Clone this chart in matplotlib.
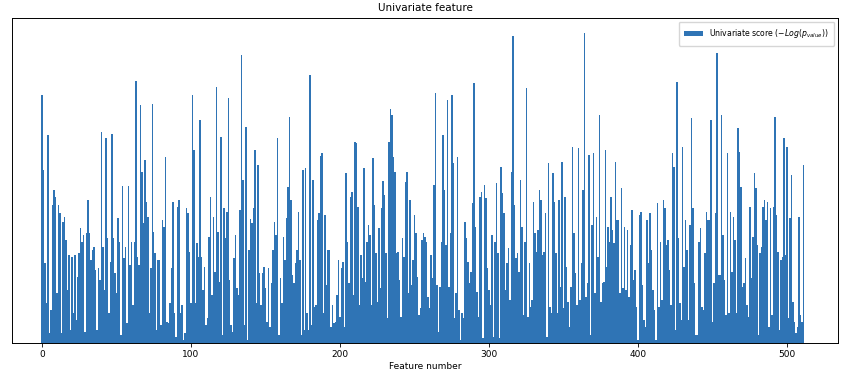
import numpy as np
import matplotlib
matplotlib.use("Agg")
import matplotlib.pyplot as plt

# univariate scores, in blocks of feature numbers
scores_000_063 = [248, 173, 80, 40, 208, 10, 33, 138, 153, 146, 50, 138, 130, 10, 121, 126, 103, 53, 88, 13,
                  86, 30, 88, 23, 66, 90, 115, 101, 108, 11, 110, 143, 110, 83, 93, 96, 73, 13, 75, 63,
                  211, 96, 53, 205, 105, 30, 81, 209, 105, 70, 50, 125, 101, 8, 157, 85, 96, 20, 157, 78,
                  101, 38, 101, 262]
scores_064_127 = [86, 78, 238, 171, 120, 183, 141, 126, 30, 75, 239, 111, 90, 13, 83, 83, 18, 123, 116, 186,
                  21, 20, 40, 75, 141, 30, 6, 136, 143, 30, 38, 3, 10, 135, 130, 91, 40, 248, 193, 40,
                  100, 86, 223, 86, 53, 76, 18, 25, 106, 146, 48, 126, 71, 256, 111, 61, 206, 8, 135, 105,
                  131, 245, 63, 18]
scores_128_190 = [11, 85, 108, 55, 48, 133, 288, 163, 18, 216, 3, 93, 124, 120, 135, 193, 40, 178, 70, 38,
                  70, 76, 55, 21, 75, 16, 60, 93, 121, 108, 205, 8, 65, 40, 106, 83, 125, 156, 226, 143,
                  68, 60, 80, 93, 131, 83, 8, 173, 13, 175, 30, 13, 268, 18, 163, 36, 38, 123, 130, 187,
                  190, 30, 128]
scores_191_255 = [58, 93, 93, 16, 38, 20, 21, 48, 83, 26, 75, 81, 16, 170, 101, 60, 146, 151, 48, 201,
                  200, 136, 38, 88, 65, 175, 61, 101, 118, 108, 38, 185, 138, 90, 41, 115, 55, 135, 162, 148,
                  90, 25, 201, 234, 228, 186, 171, 90, 91, 63, 26, 105, 86, 161, 171, 50, 143, 58, 83, 128,
                  110, 66, 28, 35, 103]
scores_256_320 = [110, 106, 101, 46, 35, 88, 65, 158, 250, 58, 11, 56, 101, 208, 153, 98, 243, 56, 110, 248,
                  180, 25, 50, 186, 33, 3, 30, 25, 121, 105, 81, 60, 71, 140, 260, 116, 51, 26, 146, 151,
                  5, 158, 145, 75, 53, 38, 108, 6, 101, 160, 90, 5, 176, 150, 130, 53, 80, 95, 43, 171,
                  307, 138, 85, 90, 71]
scores_321_386 = [163, 116, 28, 101, 255, 26, 80, 36, 43, 141, 110, 91, 113, 153, 143, 88, 91, 130, 6, 180,
                  36, 30, 170, 141, 90, 30, 143, 56, 181, 35, 146, 76, 41, 16, 56, 196, 110, 70, 38, 195,
                  43, 80, 153, 310, 46, 60, 188, 8, 118, 190, 50, 126, 86, 228, 41, 60, 61, 193, 76, 116,
                  101, 146, 113, 100, 181, 123]
scores_387_451 = [123, 50, 155, 55, 116, 53, 113, 46, 98, 133, 63, 73, 36, 3, 128, 131, 58, 23, 16, 123,
                  80, 130, 93, 53, 33, 3, 140, 36, 101, 43, 143, 135, 98, 103, 73, 38, 190, 176, 13, 261,
                  105, 40, 23, 196, 76, 123, 93, 23, 118, 225, 135, 60, 8, 8, 101, 115, 36, 33, 90, 131,
                  123, 123, 223, 21, 60]
scores_452_511 = [130, 290, 68, 68, 228, 108, 63, 28, 190, 30, 131, 71, 126, 103, 30, 215, 191, 156, 56, 60,
                  85, 38, 26, 136, 65, 106, 170, 155, 98, 8, 90, 96, 136, 143, 123, 141, 16, 135, 28, 136,
                  226, 128, 91, 13, 83, 86, 205, 88, 196, 25, 125, 168, 41, 21, 10, 16, 126, 28, 21, 178]

xticks = [0, 100, 200, 300, 400, 500]


def main():
    scores = np.array(scores_000_063 + scores_064_127 + scores_128_190 + scores_191_255
                      + scores_256_320 + scores_321_386 + scores_387_451 + scores_452_511, dtype=float)
    X_indices = np.arange(len(scores))

    fig = plt.figure(figsize=(8.47, 3.71), dpi=100)
    ax = fig.add_axes([0.0142, 0.0755, 0.9752, 0.876])

    ax.bar(X_indices, scores, width=1.0, color="#2f74b5", linewidth=0,
           label=r"Univariate score ($-Log(p_{value})$)")

    ax.set_xlim(-20.1, 534.2)
    ax.set_ylim(0, 325)
    ax.set_yticks([])
    ax.set_xticks(xticks)
    ax.tick_params(axis="x", labelsize=6.5, length=3, width=0.6, pad=2)
    for s in ax.spines.values():
        s.set_linewidth(0.7)

    ax.set_title("Univariate feature", fontsize=7.5, pad=5)
    ax.set_xlabel("Feature number", fontsize=6.5, labelpad=2)
    ax.legend(loc="upper right", fontsize=5.6, frameon=True, handlelength=2.4,
              borderpad=0.7, fancybox=True, borderaxespad=0.5)

    fig.savefig("out.png", dpi=100)
    plt.close(fig)


if __name__ == "__main__":
    main()
